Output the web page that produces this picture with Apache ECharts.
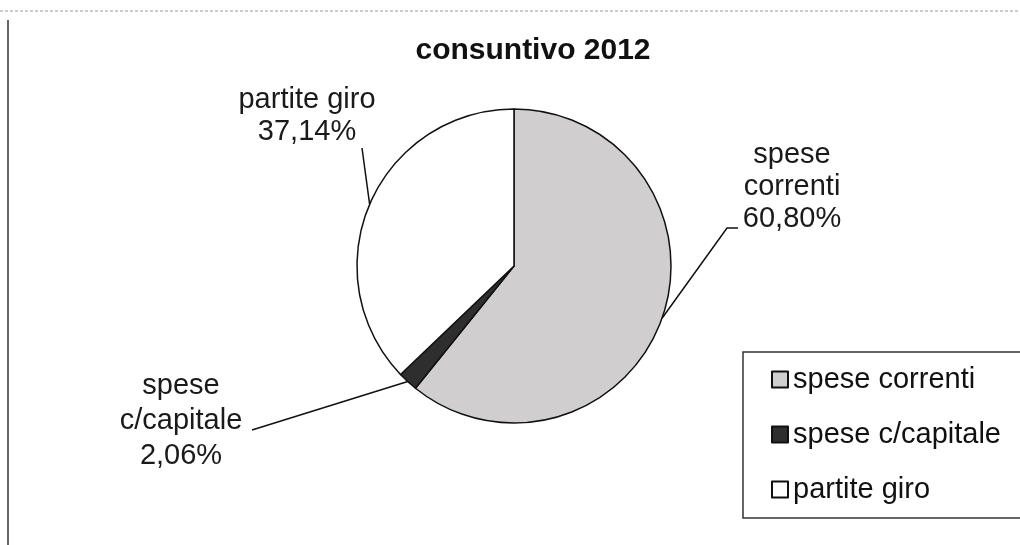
<!DOCTYPE html>
<html><head><meta charset="utf-8">
<script src="https://cdn.jsdelivr.net/npm/echarts@6/dist/echarts.min.js"></script>
<style>html,body{margin:0;padding:0;background:#fff}#c{width:1020px;height:545px}</style>
</head><body><div id="c"></div>
<script>
const title = 'consuntivo 2012';
const categories = ['spese correnti', 'spese c/capitale', 'partite giro'];
const values = [60.80, 2.06, 37.14];
const labelTexts = ['spese\ncorrenti\n60,80%', 'spese\nc/capitale\n2,06%', 'partite giro\n37,14%'];

const colors = ['#d0cece', '#2e2e2e', '#ffffff'];
// label centre positions and leader-line end offsets (relative to label centre)
const labelStyle = [
  { x: 792, y: 187, lh: 32, ends: [[-65, 41], [-54, 41]] },
  { x: 181, y: 421, lh: 35, ends: [[71, 9]] },
  { x: 307, y: 116, lh: 32, ends: [[55, 32]] }
];

const chart = echarts.init(document.getElementById('c'));
chart.setOption({
  animation: false,
  backgroundColor: '#fff',
  title: { text: title, left: 528, top: 31, textAlign: 'center',
    textStyle: { fontFamily: 'Liberation Sans', fontSize: 30, fontWeight: 'bold', color: '#111' } },
  legend: {
    orient: 'vertical', left: 743, top: 352,
    padding: [13, 30, 14, 28], itemGap: 26,
    itemWidth: 16, itemHeight: 16, icon: 'rect',
    borderColor: '#333', borderWidth: 1.5,
    textStyle: { fontFamily: 'Liberation Sans', fontSize: 29, color: '#111' },
    data: categories
  },
  graphic: [
    { type: 'line', shape: { x1: 0, y1: 11, x2: 1020, y2: 11 }, style: { stroke: '#999', lineWidth: 1, lineDash: [3, 2] } },
    { type: 'line', shape: { x1: 8, y1: 20, x2: 8, y2: 545 }, style: { stroke: '#333', lineWidth: 1.5 } }
  ],
  series: [{
    type: 'pie',
    center: [514, 266],
    radius: 157,
    startAngle: 90,
    clockwise: true,
    itemStyle: { borderColor: '#111', borderWidth: 1.5 },
    data: categories.map((n, i) => ({ name: n, value: values[i], itemStyle: { color: colors[i] },
      label: { formatter: labelTexts[i], lineHeight: labelStyle[i].lh } })),
    label: {
      show: true, position: 'outside',
      fontFamily: 'Liberation Sans', fontSize: 29, lineHeight: 32, color: '#1a1a1a', align: 'center'
    },
    labelLine: { show: true, length: 30, length2: 20, lineStyle: { color: '#111', width: 1.5 } },
    labelLayout: function (p) {
      const s = labelStyle[p.dataIndex];
      const pts = [p.labelLinePoints[0]].concat(s.ends.map(e => [s.x + e[0], s.y + e[1]]));
      if (pts.length === 2) pts.push(pts[1].slice());
      return { x: s.x, y: s.y, align: 'center', verticalAlign: 'middle', labelLinePoints: pts };
    },
    emphasis: { disabled: true }
  }]
});
</script></body></html>
